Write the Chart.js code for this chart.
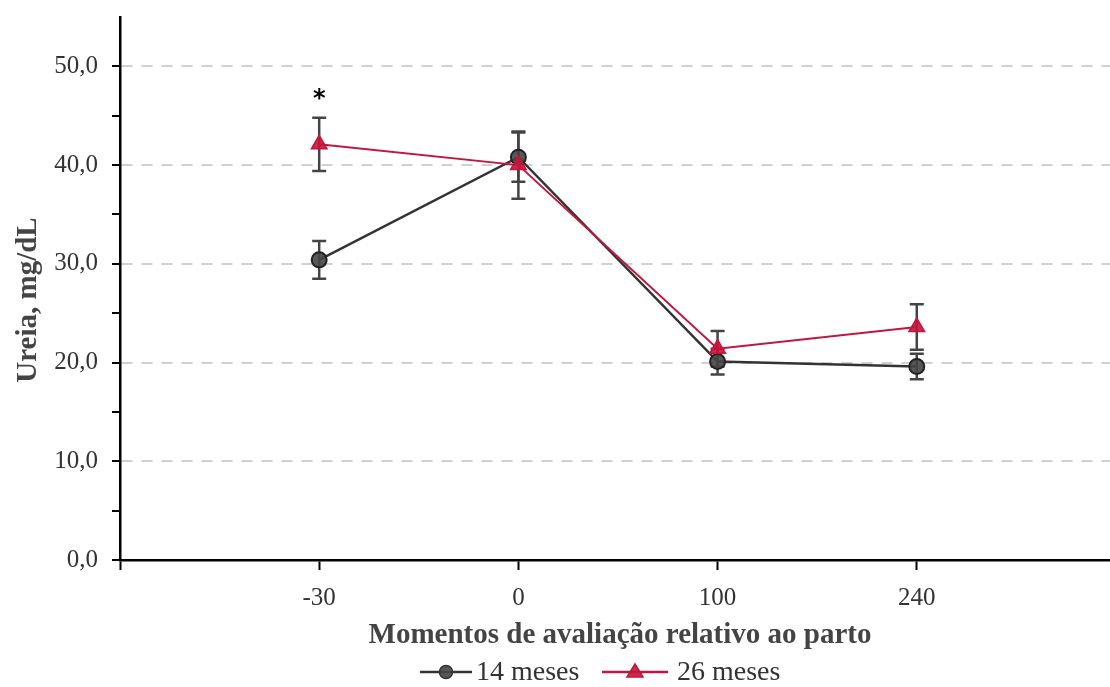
<!DOCTYPE html>
<html>
<head>
<meta charset="utf-8">
<script src="https://cdn.jsdelivr.net/npm/chart.js@4.4.1/dist/chart.umd.min.js"></script>
<style>
html,body{margin:0;padding:0;background:#fff;}
canvas{display:block;}
</style>
</head>
<body>
<canvas id="c" width="1110" height="687"></canvas>
<script>
const categories = ['-30', '0', '100', '240'];
const mean14 = [30.4, 40.8, 20.1, 19.6];
const err14 = [1.9, 2.5, 1.3, 1.3];
const mean26 = [42.1, 40.0, 21.4, 23.6];
const err26 = [2.7, 3.4, 1.8, 2.3];
const yTickValues = [0, 5, 10, 15, 20, 25, 30, 35, 40, 45, 50];
const seriesNames = ['14 meses', '26 meses'];
const xTitle = 'Momentos de avaliação relativo ao parto';
const yTitle = 'Ureia, mg/dL';
const significance = [{index: 0, value: 47.0, text: '*'}];

const BLACK_LINE = '#333333';
const BLACK_FILL = 'rgba(70,70,70,0.9)';
const RED_LINE = '#c0173f';
const RED_FILL = 'rgba(200,20,55,0.9)';
const SERIF = '"Liberation Serif", "Times New Roman", serif';

const errorBars = {
  id: 'errorBars',
  beforeDatasetsDraw(chart) {
    const {ctx, scales: {x, y}} = chart;
    const sets = [[mean26, err26], [mean14, err14]];
    ctx.save();
    ctx.strokeStyle = '#444';
    ctx.lineWidth = 2.5;
    sets.forEach(([m, e]) => {
      m.forEach((v, i) => {
        const px = x.getPixelForValue(i);
        const top = y.getPixelForValue(v + e[i]);
        const bot = y.getPixelForValue(v - e[i]);
        ctx.beginPath();
        ctx.moveTo(px, top); ctx.lineTo(px, bot);
        ctx.moveTo(px - 7, top); ctx.lineTo(px + 7, top);
        ctx.moveTo(px - 7, bot); ctx.lineTo(px + 7, bot);
        ctx.stroke();
      });
    });
    ctx.restore();
  },
  afterDraw(chart) {
    const {ctx, scales: {x, y}} = chart;
    ctx.save();
    ctx.fillStyle = '#000';
    ctx.font = 'bold 24px "DejaVu Sans", sans-serif';
    ctx.textAlign = 'center';
    ctx.textBaseline = 'middle';
    significance.forEach(s => {
      ctx.fillText(s.text, x.getPixelForValue(s.index), y.getPixelForValue(s.value) + 4);
    });
    ctx.translate(28, 300);
    ctx.rotate(-Math.PI / 2);
    ctx.font = 'bold 29px ' + SERIF;
    const w = ctx.measureText(yTitle).width;
    ctx.fillStyle = '#fff';
    ctx.fillRect(-w / 2 - 2, -22, w + 4, 43);
    ctx.fillStyle = '#444';
    ctx.textAlign = 'center';
    ctx.textBaseline = 'middle';
    ctx.fillText(yTitle, 0, 1);
    ctx.restore();

    ctx.save();
    ctx.font = 'bold 29px ' + SERIF;
    ctx.fillStyle = '#444';
    ctx.textAlign = 'center';
    ctx.textBaseline = 'middle';
    ctx.fillText(xTitle, 620, 636);
    ctx.font = '28px ' + SERIF;
    ctx.textAlign = 'left';
    const items = [
      {x0: 420, x1: 472, mx: 446, text: seriesNames[0], tx: 476, line: BLACK_LINE, fill: BLACK_FILL, style: 'circle'},
      {x0: 602, x1: 668, mx: 635, text: seriesNames[1], tx: 677, line: RED_LINE, fill: RED_FILL, style: 'triangle'}
    ];
    const ly = 672;
    items.forEach(it => {
      ctx.strokeStyle = it.line;
      ctx.lineWidth = 2.5;
      ctx.beginPath(); ctx.moveTo(it.x0, ly); ctx.lineTo(it.x1, ly); ctx.stroke();
      ctx.fillStyle = it.fill;
      ctx.beginPath();
      if (it.style === 'circle') {
        ctx.arc(it.mx, ly, 6.5, 0, Math.PI * 2);
      } else {
        ctx.moveTo(it.mx, ly - 8); ctx.lineTo(it.mx + 8, ly + 5); ctx.lineTo(it.mx - 8, ly + 5); ctx.closePath();
      }
      ctx.fill();
      ctx.lineWidth = 1.5;
      ctx.stroke();
      ctx.fillStyle = '#333';
      ctx.fillText(it.text, it.tx, ly + 1);
    });
    ctx.restore();
  }
};

new Chart(document.getElementById('c'), {
  type: 'line',
  data: {
    datasets: [
      {
        label: seriesNames[1],
        data: mean26.map((v, i) => ({x: i, y: v})),
        borderColor: RED_LINE,
        backgroundColor: RED_FILL,
        pointBorderColor: RED_LINE,
        borderWidth: 2,
        pointStyle: 'triangle',
        pointRadius: 9,
        pointBorderWidth: 1.5,
        tension: 0
      },
      {
        label: seriesNames[0],
        data: mean14.map((v, i) => ({x: i, y: v})),
        borderColor: BLACK_LINE,
        backgroundColor: BLACK_FILL,
        pointBorderColor: '#222',
        borderWidth: 2.5,
        pointStyle: 'circle',
        pointRadius: 7.5,
        pointBorderWidth: 2,
        tension: 0
      }
    ]
  },
  options: {
    responsive: false,
    animation: false,
    devicePixelRatio: 1,
    layout: {autoPadding: false, padding: {left: 0, right: 0, top: 17, bottom: 0}},
    plugins: {legend: {display: false}, tooltip: {enabled: false}},
    scales: {
      x: {
        type: 'linear',
        min: -1,
        max: 3.97,
        afterBuildTicks(s) { s.ticks = [-1, 0, 1, 2, 3].map(v => ({value: v})); },
        afterFit(s) { s.height = 127; s.paddingLeft = 0; s.paddingRight = 0; },
        ticks: {
          autoSkip: false, maxRotation: 0, padding: 13,
          font: {family: SERIF, size: 25}, color: '#333',
          callback: v => (v >= 0 && v < categories.length) ? categories[v] : ''
        },
        grid: {color: 'rgba(0,0,0,0)', drawTicks: true, tickLength: 10, tickColor: '#000', tickWidth: 2, tickBorderDash: []},
        border: {display: true, color: '#000', width: 2.5}
      },
      y: {
        min: 0,
        max: 55,
        afterBuildTicks(s) { s.ticks = yTickValues.map(v => ({value: v})); },
        afterFit(s) { s.width = 120; s.paddingTop = 0; s.paddingBottom = 0; },
        ticks: {
          autoSkip: false, padding: 14,
          font: {family: SERIF, size: 25}, color: '#333',
          callback: v => (v % 10 === 0) ? v.toFixed(1).replace('.', ',') : ''
        },
        grid: {
          color: ctx => (ctx.tick && ctx.tick.value > 0 && ctx.tick.value % 10 === 0) ? '#d0d0d0' : 'rgba(0,0,0,0)',
          lineWidth: 2,
          drawTicks: true, tickLength: 8, tickColor: '#000', tickWidth: 2, tickBorderDash: []
        },
        border: {display: true, color: '#000', width: 2.5, dash: [11, 9]}
      }
    }
  },
  plugins: [errorBars]
});
</script>
</body>
</html>
